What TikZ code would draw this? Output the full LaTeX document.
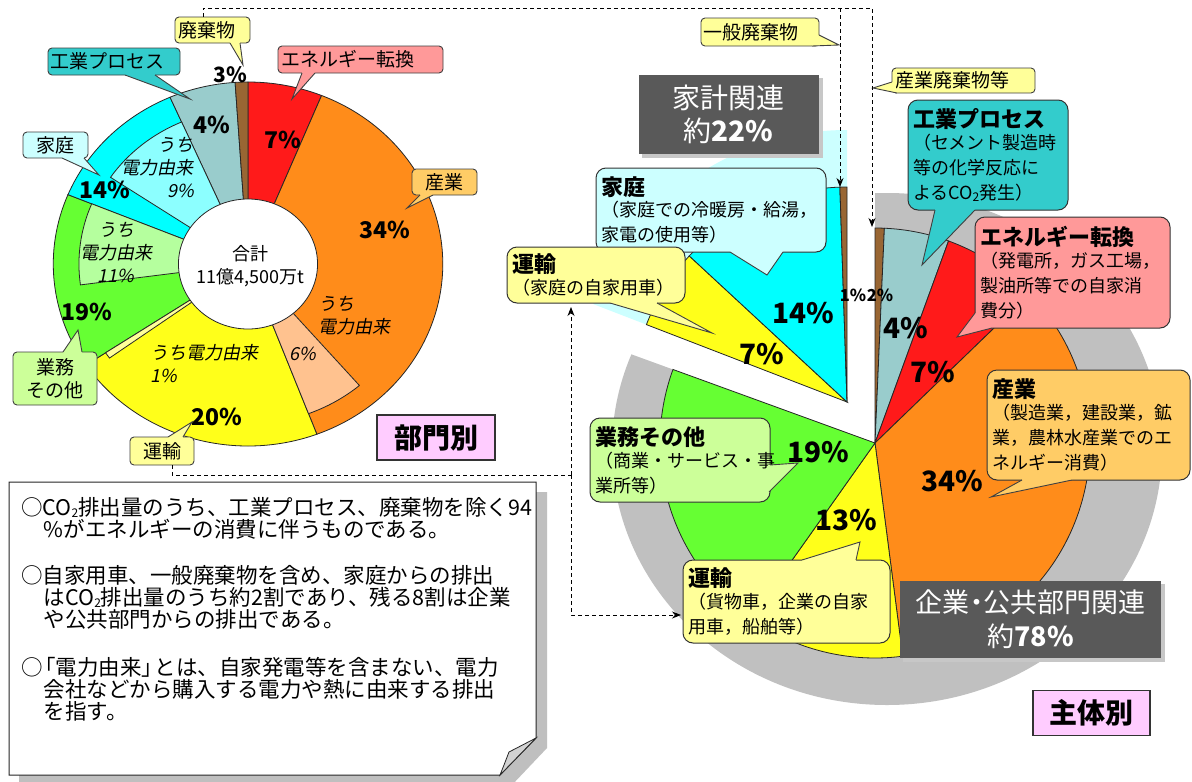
\documentclass[tikz,border=0pt]{standalone}
\usepackage{fontspec}
\setmainfont{Noto Sans CJK JP}
\newfontfamily\jpit{Noto Sans CJK JP}[FakeSlant=0.2]
\usetikzlibrary{arrows.meta,calc}
\definecolor{cRed}{HTML}{FF1A1A}
\definecolor{cOrange}{HTML}{FF8C1A}
\definecolor{cYellow}{HTML}{FFFF1A}
\definecolor{cGreen}{HTML}{66FF33}
\definecolor{cCyan}{HTML}{00FFFF}
\definecolor{cGrayBlue}{HTML}{99CCCC}
\definecolor{cBrown}{HTML}{996633}
\definecolor{cPeach}{HTML}{FFC28F}
\definecolor{cLGreen}{HTML}{B5FF9E}
\definecolor{cLCyan}{HTML}{8CFFFF}
\definecolor{cPaleY}{HTML}{FFFF99}
\definecolor{bYellow}{HTML}{FFFF99}
\definecolor{bTeal}{HTML}{33CCCC}
\definecolor{bPink}{HTML}{FF9999}
\definecolor{bLCyan}{HTML}{CCFFFF}
\definecolor{bOrange}{HTML}{FFCC66}
\definecolor{bLGreen}{HTML}{CCFF99}
\definecolor{bMagenta}{HTML}{FFCCFF}
\definecolor{bDark}{HTML}{595959}
\definecolor{cDisc}{HTML}{C0C0C0}
\tikzset{
  slice/.style={draw=black!85, line width=0.8pt},
  cbox/.style={draw=black!75, line width=0.9pt, rounded corners=4pt, inner sep=0pt, font=\fontsize{19}{23}\selectfont},
  rbox/.style={draw=black!80, line width=1pt, rounded corners=10pt, inner xsep=5pt, inner ysep=0pt, align=left, font=\fontsize{18}{25}\selectfont},
  cline/.style={draw=black!75, line width=0.9pt},
  pctL/.style={font=\fontsize{23}{25}\selectfont\bfseries, inner sep=0pt},
  pctR/.style={font=\fontsize{28}{30}\selectfont\bfseries, inner sep=0pt},
  subL/.style={font=\fontsize{18}{23}\jpit, inner sep=0pt},
  dark/.style={fill=bDark, text=white, inner sep=0pt, align=center},
  tag/.style={fill=bMagenta, draw=black!80, line width=1.5pt, inner sep=0pt, font=\fontsize{28}{30}\selectfont\bfseries},
  dashline/.style={dash pattern=on 4pt off 3pt, line width=0.9pt},
  arr/.style={-{Stealth[length=9pt,width=7pt]}},
  note/.style={anchor=north west, align=left, inner sep=0pt, font=\fontsize{21.5}{22}\selectfont},
}
\newcommand{\slc}[4]{\filldraw[slice, fill=#1] (0,0) -- (#2:#4) arc[start angle=#2, end angle=#3, radius=#4] -- cycle;}
% #1 colour, #2 base 1, #3 tip, #4 base 2, #5 inward offset at base 1, #6 inward offset at base 2
\newcommand{\pointer}[6]{%
  \fill[#1] ($(#2)+(#5)$) -- (#2) -- (#3) -- (#4) -- ($(#4)+(#6)$) -- cycle;
  \draw[cline] (#2) -- (#3) -- (#4);}
\newcommand{\po}{\kern-0.45em（}
\newcommand{\hd}[1]{{\fontsize{22}{25}\selectfont\bfseries #1}\\[5pt]}
\newcommand{\cotwo}{CO\raisebox{-0.12em}{\fontsize{12}{12}\selectfont 2}}
\begin{document}
\begin{tikzpicture}[x=1pt,y=-1pt]
\useasboundingbox (0,0) rectangle (1192,782);
\fill[white] (0,0) rectangle (1192,782);

% ---------------- left donut ----------------
\begin{scope}[shift={(248,264)}, xscale=1.07]
  \slc{cRed}{-90}{-67.8}{182}
  \slc{cOrange}{-67.8}{69.3}{182}
  \slc{cYellow}{69.3}{146.3}{182}
  \slc{cGreen}{146.3}{202.4}{182}
  \slc{cCyan}{202.4}{246.4}{182}
  \slc{cGrayBlue}{246.4}{266.2}{182}
  \slc{cBrown}{266.2}{270}{182}
  \slc{cPeach}{49.4}{69.3}{160}
  \slc{cPaleY}{144}{146.3}{160}
  \slc{cLGreen}{172.4}{202.4}{158}
  \slc{cLCyan}{214}{246.4}{155}
  \filldraw[slice, fill=white] (0,0) circle[radius=65];
\end{scope}
\node[align=center, inner sep=0pt, font=\fontsize{18}{23}\selectfont] (total) at (250,266) {合計\\11億4,500万t};

\node[pctL, font=\fontsize{21}{23}\selectfont\bfseries] (p3L) at (230,75) {3\%};
\node[pctL] (p4L) at (212,125) {4\%};
\node[pctL] (p7L) at (283,140) {7\%};
\node[pctL] (p14L) at (105,190) {14\%};
\node[pctL] (p34L) at (385,230) {34\%};
\node[pctL] (p19L) at (87,312) {19\%};
\node[pctL] (p20L) at (217,417) {20\%};
\node[subL, align=right, anchor=east] (s9) at (194,168) {うち\\電力由来\\9\%};
\node[subL, align=center] (s11) at (116,253) {うち\\電力由来\\11\%};
\node[subL, align=left, anchor=west] (s6a) at (318,316) {うち\\電力由来};
\node[subL] (s6) at (303,354) {6\%};
\node[subL, align=left, anchor=west] (s1) at (150,364) {うち電力由来\\1\%};

% left callouts
\node[cbox, fill=bYellow, minimum width=75pt, minimum height=26pt, text width=69pt, align=left] (haiki) at (212.5,30) {廃棄物};
\pointer{bYellow}{230,43}{243,65}{240,43}{0,-2}{0,-2}
\node[cbox, fill=bTeal, minimum width=132pt, minimum height=27pt, text width=127pt, align=left] (kougyoL) at (114,61.5) {工業プロセス};
\pointer{bTeal}{125,75}{190,99}{155,75}{0,-2}{0,-2}
\node[cbox, fill=bPink, minimum width=165pt, minimum height=27pt, text width=159pt, align=left] (enerL) at (360.5,59.5) {エネルギー転換};
\pointer{bPink}{302,73}{292,99}{315,73}{0,-2}{0,-2}
\node[cbox, fill=bLCyan, minimum width=65pt, minimum height=26pt] (kateiL) at (55.5,145) {家庭};
\pointer{bLCyan}{62,158}{99,175}{84,158}{0,-2}{0,-2}
\node[cbox, fill=bOrange, minimum width=65pt, minimum height=26pt] (sangyoL) at (444.5,182) {産業};
\pointer{bOrange}{420,195}{407,208}{433,195}{0,-2}{0,-2}
\node[cbox, fill=bLGreen, minimum width=84pt, minimum height=53pt, align=center] (gyomuL) at (55,378.5) {業務\\その他};
\pointer{bLGreen}{63,352}{78,330}{82,352}{0,2}{0,2}
\node[cbox, fill=bYellow, minimum width=64pt, minimum height=28pt] (unyuL) at (162,451) {運輸};
\pointer{bYellow}{168,437}{192,422}{183,437}{0,2}{0,2}
\node[tag, minimum width=118pt, minimum height=45pt] (bumon) at (436,437.5) {部門別};

% ---------------- right pie ----------------
\begin{scope}[shift={(875,443)}]
  \clip (0,0) -- (-90:420) arc[start angle=-90, end angle=200, radius=420] -- cycle;
  \fill[cDisc] (12,6) ellipse[x radius=275, y radius=256];
\end{scope}
\begin{scope}[shift={(847,402)}]
  \fill[bLCyan] (0,0) -- (201.1:272) arc[start angle=201.1, end angle=270, radius=272] -- cycle;
\end{scope}
\begin{scope}[shift={(875,443)}]
  \slc{cBrown}{-90}{-87.5}{215}
  \slc{cGrayBlue}{-87.5}{-70}{215}
  \slc{cRed}{-70}{-44}{215}
  \slc{cOrange}{-44}{82.6}{215}
  \slc{cYellow}{82.6}{125.3}{215}
  \slc{cGreen}{125.3}{200}{215}
\end{scope}
\begin{scope}[shift={(847,402)}]
  \slc{cYellow}{201.1}{222.8}{215}
  \slc{cCyan}{222.8}{268.1}{215}
  \slc{cBrown}{268.1}{270}{215}
\end{scope}

\node[pctR] (p14R) at (803,313) {14\%};
\node[pctR] (p7hR) at (762,354) {7\%};
\node[inner sep=0pt, font=\fontsize{16.5}{19}\selectfont\bfseries] (p1R) at (853,295) {1\%};
\node[inner sep=0pt, font=\fontsize{16.5}{19}\selectfont\bfseries] (p2R) at (880,295) {2\%};
\node[pctR] (p4R) at (906,328) {4\%};
\node[pctR] (p7R) at (933,372) {7\%};
\node[pctR] (p34R) at (952,481) {34\%};
\node[pctR] (p19R) at (818,452) {19\%};
\node[pctR] (p13R) at (846,520) {13\%};

% dark boxes
\fill[black!22] (642,78) rectangle (823,158);
\node[dark, minimum width=180pt, minimum height=79pt, font=\fontsize{28}{33}\selectfont] (kakei) at (728.5,114.5) {家計関連\\約\textbf{22\%}};
\fill[black!22] (903,584) rectangle (1165,662);
\node[dark, minimum width=261pt, minimum height=77pt, font=\fontsize{27}{34}\selectfont] (kigyo) at (1030.5,619.5) {企業\kern-0.25em・\kern-0.25em公共部門関連\\約\textbf{78\%}};
\node[tag, minimum width=117pt, minimum height=45pt] (shutai) at (1091.5,713) {主体別};

% right callouts
\node[cbox, fill=bYellow, minimum width=118pt, minimum height=28pt, text width=113pt, align=left] (ippan) at (760,32) {一般廃棄物};
\pointer{bYellow}{819,35}{839,45}{812,46}{-2,0}{0,-2}
\node[cbox, fill=bYellow, minimum width=143pt, minimum height=25pt, text width=137pt, align=left] (sanpai) at (963.5,80.5) {産業廃棄物等};
\pointer{bYellow}{892,82}{873,88}{897,93}{2,0}{0,-2}

\node[rbox, fill=bLCyan, minimum height=84pt, text width=220pt] (kateiR) at (711,210) {\hd{家庭}\po 家庭での冷暖房・給湯，\\家電の使用等）};
\pointer{bLCyan}{730,252}{767,275}{783,252}{0,-2}{0,-2}
\node[rbox, fill=bYellow, minimum height=56pt, text width=168pt] (unyuH) at (596,275) {\hd{運輸}\po 家庭の自家用車）};
\pointer{bYellow}{610,303}{712,333}{657,303}{0,-2}{0,-2}
\node[rbox, fill=bTeal, minimum height=110pt, text width=150pt] (kougyoR) at (988,155) {\hd{工業プロセス}\po セメント製造時\\等の化学反応に\\よる\cotwo 発生）};
\pointer{bTeal}{935,210}{922,265}{975,210}{0,-2}{0,-2}
\node[rbox, fill=bPink, minimum height=111pt, text width=185pt] (enerR) at (1072.5,272.5) {\hd{エネルギー転換}\po 発電所，ガス工場，\\製油所等での自家消\\費分）};
\pointer{bPink}{975,313}{957,337}{992,328}{2,0}{0,-2}
\node[rbox, fill=bOrange, minimum height=110pt, text width=193pt] (sangyoR) at (1088.5,425) {\hd{産業}\po 製造業，建設業，鉱\\業，農林水産業でのエ\\ネルギー消費）};
\pointer{bOrange}{1022,480}{991,497}{1072,480}{0,-2}{0,-2}
\node[rbox, fill=bLGreen, minimum height=84pt, text width=170pt] (gyomuR) at (680,460) {\hd{業務その他}\po 商業・サービス・事\\業所等）};
\pointer{bLGreen}{770,465}{798,463}{769,492}{-2,0}{-2,0}
\node[rbox, fill=bYellow, minimum height=83pt, text width=197pt] (unyuC) at (786.5,601.5) {\hd{運輸}\po 貨物車，企業の自家\\用車，船舶等）};
\pointer{bYellow}{802,560}{860,542}{856,560}{0,2}{0,2}

% dashed connectors
\coordinate (topR) at (872,8);
\coordinate (topM) at (840,8);
\coordinate (ippanTip) at (840,187);
\coordinate (sanTip) at (872,227);
\draw[dashline, arr] ([xshift=-9.5pt]haiki.north) |- (topR) -- (sanTip);
\draw[dashline, arr] (topM) -- (ippanTip);
\coordinate (junc) at (571,475);
\coordinate (unyuHarr) at (571,307);
\coordinate (unyuCarr) at (681,615);
\draw[dashline] ([xshift=10pt]unyuL.south) |- (junc);
\draw[dashline, arr] (junc) -- (unyuHarr);
\draw[dashline, arr] (junc) |- (unyuCarr);

% note box
\fill[gray!50] (19,492) -- (547,492) -- (547,748) -- (511,786) -- (19,786) -- cycle;
\filldraw[fill=white, draw=black!85, line width=1pt] (9,482) -- (536,482) -- (536,738) -- (500,775) -- (9,775) -- cycle;
\filldraw[fill=gray!35, draw=black!85, line width=0.8pt] (500,775) .. controls (504,765) .. (509,752) -- (536,738) -- cycle;
\node[note] (n1) at (21,497) {○\cotwo 排出量のうち、工業プロセス、廃棄物を除く94\\\hspace*{1.05em}\%がエネルギーの消費に伴うものである。};
\node[note] (n2) at (21,565) {○自家用車、一般廃棄物を含め、家庭からの排出\\\hspace*{1.05em}は\cotwo 排出量のうち約2割であり、残る8割は企業\\\hspace*{1.05em}や公共部門からの排出である。};
\node[note] (n3) at (21,657) {○\kern-0.4em「電力由来」\kern-0.4em とは、自家発電等を含まない、電力\\\hspace*{1.05em}会社などから購入する電力や熱に由来する排出\\\hspace*{1.05em}を指す。};
\end{tikzpicture}
\end{document}
